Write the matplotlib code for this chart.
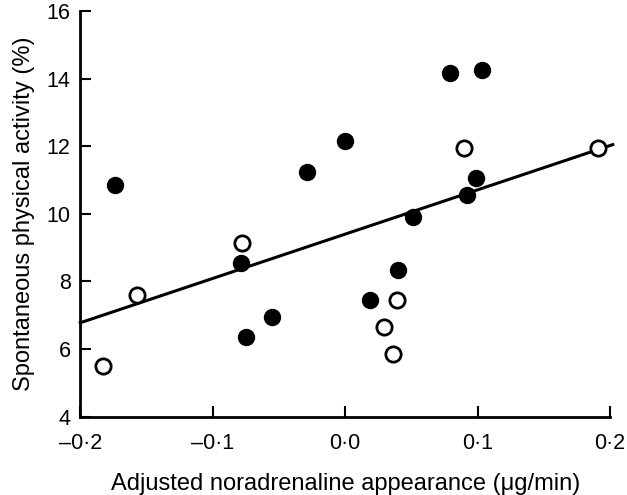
import matplotlib.pyplot as plt

plt.rcParams['font.family'] = ['Liberation Sans', 'DejaVu Sans']

# --- Data ---
filled_x = [-0.174, -0.029, 0.000, 0.079, 0.103, 0.099, 0.092, 0.051,
            -0.079, -0.055, -0.075, 0.040, 0.019]
filled_y = [10.85, 11.25, 12.15, 14.15, 14.25, 11.05, 10.55, 9.9,
            8.55, 6.95, 6.35, 8.35, 7.45]

open_x = [-0.183, -0.157, -0.078, 0.090, 0.191, 0.039, 0.029, 0.036]
open_y = [5.5, 7.6, 9.15, 11.95, 11.95, 7.45, 6.65, 5.85]

# regression line
line_x = [-0.2, 0.202]
intercept = 9.4
slope = 13.1

xticks = [-0.2, -0.1, 0.0, 0.1, 0.2]
xtick_labels = ['–0·2', '–0·1', '0·0', '0·1', '0·2']
yticks = [4, 6, 8, 10, 12, 14, 16]

fig = plt.figure(figsize=(6.27, 4.95), dpi=100)
ax = fig.add_axes([0.128, 0.158, 0.845, 0.82])

ax.plot(line_x, [intercept + slope * x for x in line_x], color='black',
        linewidth=2.2, clip_on=False, zorder=2)
ax.plot(filled_x, filled_y, 'o', color='black', markersize=11.5,
        clip_on=False, zorder=3)
ax.plot(open_x, open_y, 'o', markerfacecolor='white', markeredgecolor='black',
        markeredgewidth=2, markersize=11, clip_on=False, zorder=3)

ax.set_xlim(-0.2, 0.2)
ax.set_ylim(4, 16)
ax.set_xticks(xticks)
ax.set_xticklabels(xtick_labels)
ax.set_yticks(yticks)

for side in ['top', 'right']:
    ax.spines[side].set_visible(False)
for side in ['left', 'bottom']:
    ax.spines[side].set_linewidth(2)

ax.tick_params(direction='in', length=8, width=1.5, labelsize=15.5, pad=7)
ax.tick_params(axis='x', pad=12)

ax.set_xlabel('Adjusted noradrenaline appearance (μg/min)', fontsize=17, labelpad=13)
ax.set_ylabel('Spontaneous physical activity (%)', fontsize=17, labelpad=8)

fig.savefig('out.png', dpi=100)
